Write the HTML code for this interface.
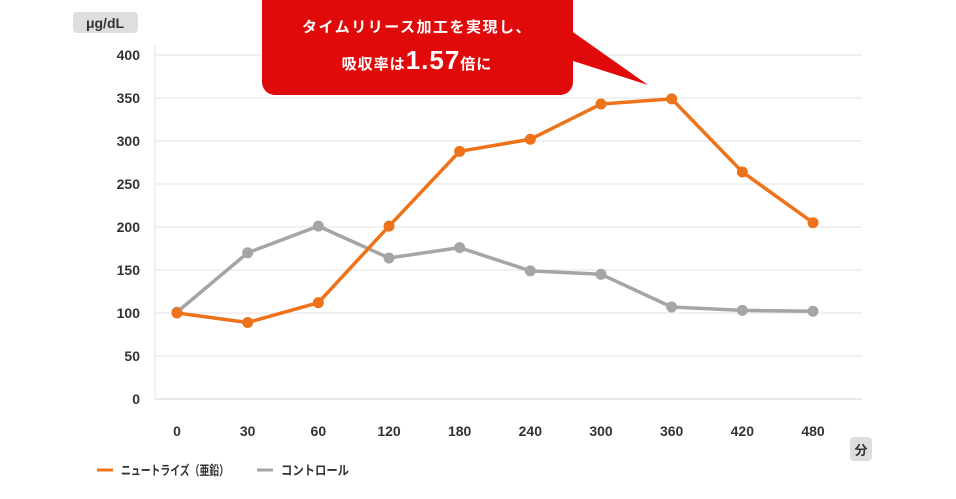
<!DOCTYPE html>
<html><head><meta charset="utf-8"><style>
body{margin:0;background:#fff;}
svg text{font-family:"Liberation Sans","Noto Sans CJK JP",sans-serif;}
</style></head><body>
<svg width="956" height="494" viewBox="0 0 956 494">
<g id="grid"></g>
<g id="series"></g>
<rect x="73" y="12" width="65" height="21" rx="4" fill="#dedede"/>
<text x="105" y="28" font-size="14" font-weight="bold" fill="#333" text-anchor="middle">μg/dL</text>
<rect x="850" y="437" width="22" height="24" rx="4" fill="#dedede"/>
<text x="861" y="455" font-size="13" font-weight="bold" fill="#333" text-anchor="middle">分</text>
<g>
<rect x="262" y="-12" width="311" height="107" rx="13" fill="#e10a0a"/>
<polygon points="570,30 570,60 648,85" fill="#e10a0a"/>
<text x="417" y="32" font-size="15" font-weight="bold" fill="#fff" text-anchor="middle" letter-spacing="1.5">タイムリリース加工を実現し、</text>
<text x="417" y="69" font-size="15" font-weight="bold" fill="#fff" text-anchor="middle" letter-spacing="1">吸収率は<tspan font-size="26">1.57</tspan>倍に</text>
</g>
<g>
<line x1="97" y1="470" x2="113" y2="470" stroke="#ee7219" stroke-width="3"/>
<text x="121" y="475" font-size="13" font-weight="bold" fill="#333" textLength="108" lengthAdjust="spacingAndGlyphs">ニュートライズ（亜鉛）</text>
<line x1="257" y1="470" x2="273" y2="470" stroke="#a5a5a5" stroke-width="3"/>
<text x="281" y="475" font-size="13" font-weight="bold" fill="#333" textLength="68" lengthAdjust="spacingAndGlyphs">コントロール</text>
</g>
</svg>
<script>
const categories=["0","30","60","120","180","240","300","360","420","480"];
const nutrise=[100,89,112,201,288,302,343,349,264,205];
const control=[101,170,201,164,176,149,145,107,103,102];
const yTicks=[0,50,100,150,200,250,300,350,400];
const NS="http://www.w3.org/2000/svg";
const x0=177,x1=813,yBase=399,yTop=55,yMax=400;
const xs=i=>x0+i*(x1-x0)/(categories.length-1);
const ys=v=>yBase-(v/yMax)*(yBase-yTop);
function mk(t,a,p){const e=document.createElementNS(NS,t);for(const k in a)e.setAttribute(k,a[k]);p.appendChild(e);return e;}
const grid=document.getElementById('grid');
yTicks.forEach(v=>{
 const l=mk('line',{x1:155,x2:862,y1:ys(v),y2:ys(v),stroke:v===0?'#d0d0d0':'#e3e3e3','stroke-width':1},grid);
 
 
 const t=mk('text',{x:140,y:ys(v)+5,'font-size':14,'font-weight':'bold',fill:'#333','text-anchor':'end'},grid);
 t.textContent=v;
 
 
});
const ax=mk('line',{x1:155,x2:155,y1:45,y2:399,stroke:'#e3e3e3'},grid);


categories.forEach((c,i)=>{
 const t=mk('text',{x:xs(i),y:436,'font-size':14,'font-weight':'bold',fill:'#333','text-anchor':'middle'},grid);
 t.textContent=c;
 
 
});
const sg=document.getElementById('series');
[[control,'#a5a5a5','control'],[nutrise,'#ee7219','nutrise']].forEach(([d,col,nm])=>{
 const pl=mk('polyline',{points:d.map((v,i)=>xs(i)+','+ys(v)).join(' '),fill:'none',stroke:col,'stroke-width':3.5,'stroke-linejoin':'round'},sg);
 
 
 d.forEach((v,i)=>{
  const c=mk('circle',{cx:xs(i),cy:ys(v),r:5.5,fill:col},sg);
  
  
 });
});
</script>
</body></html>
